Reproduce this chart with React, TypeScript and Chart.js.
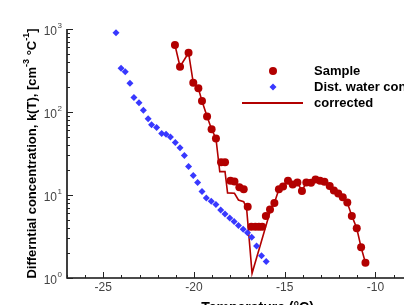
import { useEffect, useRef } from "react";
import { Chart, registerables } from "chart.js";

Chart.register(...registerables);

// Sample: differential concentration vs temperature
const sampleT = [-21.05, -20.77, -20.3, -20.04, -19.76, -19.56, -19.28, -19.03, -18.79, -18.51, -18.29, -17.99, -17.77, -17.5, -17.26, -17.04, -16.84, -16.62, -16.42, -16.24, -16.04, -15.81, -15.57, -15.32, -15.09, -14.82, -14.56, -14.3, -14.05, -13.81, -13.55, -13.3, -13.05, -12.81, -12.52, -12.29, -12.05, -11.8, -11.55, -11.3, -11.03, -10.79, -10.55];
const sampleK = [641, 351, 518, 225, 193, 136, 88, 62, 48, 24.8, 24.8, 14.9, 14.5, 12.4, 11.7, 7.2, 4.15, 4.15, 4.15, 4.15, 5.6, 6.7, 8.0, 11.7, 12.7, 14.9, 13.4, 14.1, 11.2, 14.1, 14.0, 15.4, 14.9, 14.4, 12.8, 11.3, 10.4, 9.4, 8.1, 5.6, 3.97, 2.34, 1.53];

// Distilled water background
const waterT = [-24.3, -24.02, -23.79, -23.53, -23.31, -23.03, -22.79, -22.53, -22.34, -22.06, -21.78, -21.54, -21.3, -21.03, -20.77, -20.53, -20.3, -20.04, -19.8, -19.56, -19.32, -19.05, -18.79, -18.53, -18.29, -18.03, -17.79, -17.55, -17.29, -17.05, -16.82, -16.55, -16.28, -16.02];
const waterK = [902, 336, 306, 222, 150, 129, 105, 83, 70, 65, 55, 54, 50, 43, 37, 30, 22, 17.2, 14.1, 11.0, 9.2, 8.4, 7.7, 6.6, 5.9, 5.3, 4.8, 4.3, 3.86, 3.5, 3.1, 2.43, 1.86, 1.58];

// Sample corrected for the water background
const correctedT = [-21.05, -20.77, -20.3, -20.04, -19.76, -19.56, -19.28, -19.03, -18.79, -18.58, -18.29, -18.15, -17.77, -17.55, -17.26, -17.1, -16.8, -15.78, -15.57, -15.32, -15.09, -14.82, -14.56, -14.3, -14.05, -13.81, -13.55, -13.3, -13.05, -12.81, -12.52, -12.29, -12.05, -11.8, -11.55, -11.3, -11.03, -10.79, -10.55];
const correctedK = [641, 351, 518, 225, 193, 136, 88, 62, 48, 19.1, 19.1, 10.6, 10.5, 8.7, 8.3, 6.9, 1.14, 6.6, 8.0, 11.7, 12.7, 14.9, 13.4, 14.1, 11.2, 14.1, 14.0, 15.4, 14.9, 14.4, 12.8, 11.3, 10.4, 9.4, 8.1, 5.6, 3.97, 2.34, 1.53];

const xTicks = [-25, -20, -15, -10];
const yDecades = [0, 1, 2, 3];
const legendLabels = ["Sample", "Dist. water control", "corrected"];
const xTitle = "Temperature (\u00B0C)";

const RED = "#b20000";
const BLUE = "#3838ff";
const FONT = "'Liberation Sans', Arial, Helvetica, sans-serif";

const W = 460;
const H = 320;

const pts = (xs: number[], ys: number[]) => xs.map((x, i) => ({ x, y: ys[i] }));

const axesPlugin = {
  id: "tecAxes",
  afterDraw(chart: any) {
    const { ctx, chartArea: a, scales } = chart;
    const xs = scales.x;
    const ys = scales.y;
    ctx.save();

    // axis lines
    ctx.strokeStyle = "#111";
    ctx.lineWidth = 1.6;
    ctx.beginPath();
    ctx.moveTo(a.left, a.top);
    ctx.lineTo(a.left, a.bottom);
    ctx.lineTo(a.right + 20, a.bottom);
    ctx.stroke();

    // inward ticks
    ctx.lineWidth = 1;
    ctx.strokeStyle = "#222";
    ctx.beginPath();
    for (let v = Math.ceil(xs.min); v <= xs.max; v++) {
      const px = Math.round(xs.getPixelForValue(v)) + 0.5;
      const len = v % 5 === 0 ? 6 : 3;
      ctx.moveTo(px, a.bottom);
      ctx.lineTo(px, a.bottom - len);
    }
    for (let d = 0; d < 3; d++) {
      for (let m = 1; m <= 9; m++) {
        const py = Math.round(ys.getPixelForValue(m * Math.pow(10, d))) + 0.5;
        const len = m === 1 ? 6 : 3;
        ctx.moveTo(a.left, py);
        ctx.lineTo(a.left + len, py);
      }
    }
    const pTop = Math.round(ys.getPixelForValue(1000)) + 0.5;
    ctx.moveTo(a.left, pTop);
    ctx.lineTo(a.left + 6, pTop);
    ctx.stroke();

    // x tick labels
    ctx.fillStyle = "#444";
    ctx.font = `12px ${FONT}`;
    ctx.textAlign = "center";
    ctx.textBaseline = "middle";
    xTicks.forEach((v) => {
      ctx.fillText(String(v), xs.getPixelForValue(v), a.bottom + 10);
    });

    // y tick labels: 10 with exponent
    yDecades.forEach((d) => {
      const py = ys.getPixelForValue(Math.pow(10, d));
      ctx.font = `12px ${FONT}`;
      ctx.textAlign = "right";
      ctx.fillText("10", 57, py + 2.5);
      ctx.font = `8px ${FONT}`;
      ctx.textAlign = "left";
      ctx.fillText(String(d), 57.5, py - 3);
    });

    // x axis title
    ctx.fillStyle = "#000";
    ctx.font = `bold 14px ${FONT}`;
    ctx.textAlign = "center";
    ctx.textBaseline = "top";
    ctx.fillText(xTitle, (a.left + a.right) / 2, 301);

    // y axis title with superscripts
    const pieces: [string, boolean][] = [
      ["Differntial concentration, k(T), [cm", false],
      ["-3", true],
      [" \u00B0C", false],
      ["-1", true],
      ["]", false],
    ];
    const mainFont = `bold 13px ${FONT}`;
    const supFont = `bold 9px ${FONT}`;
    let total = 0;
    const widths = pieces.map(([t, sup]) => {
      ctx.font = sup ? supFont : mainFont;
      const w = ctx.measureText(t).width;
      total += w;
      return w;
    });
    ctx.translate(32, (a.top + a.bottom) / 2);
    ctx.rotate(-Math.PI / 2);
    ctx.textAlign = "left";
    ctx.textBaseline = "middle";
    let cx = -total / 2;
    pieces.forEach(([t, sup], i) => {
      ctx.font = sup ? supFont : mainFont;
      ctx.fillText(t, cx, sup ? -5 : 0);
      cx += widths[i];
    });
    ctx.setTransform(1, 0, 0, 1, 0, 0);

    // legend
    ctx.fillStyle = RED;
    ctx.beginPath();
    ctx.arc(273, 71, 4, 0, Math.PI * 2);
    ctx.fill();
    ctx.fillStyle = BLUE;
    ctx.beginPath();
    ctx.moveTo(273, 87 - 3.5);
    ctx.lineTo(276.5, 87);
    ctx.lineTo(273, 87 + 3.5);
    ctx.lineTo(269.5, 87);
    ctx.closePath();
    ctx.fill();
    ctx.strokeStyle = RED;
    ctx.lineWidth = 2;
    ctx.beginPath();
    ctx.moveTo(242, 103);
    ctx.lineTo(303, 103);
    ctx.stroke();

    ctx.fillStyle = "#000";
    ctx.font = `bold 13px ${FONT}`;
    ctx.textAlign = "left";
    ctx.textBaseline = "middle";
    ctx.fillText(legendLabels[0], 314, 71);
    ctx.fillText(legendLabels[1], 314, 87);
    ctx.fillText(legendLabels[2], 314, 103);

    ctx.restore();
  },
};

export default function App() {
  const ref = useRef<HTMLCanvasElement | null>(null);

  useEffect(() => {
    if (!ref.current) return;
    const chart = new Chart(ref.current, {
      type: "scatter",
      data: {
        datasets: [
          {
            label: legendLabels[0],
            data: pts(sampleT, sampleK),
            showLine: false,
            pointStyle: "circle",
            pointRadius: 4,
            pointBackgroundColor: RED,
            pointBorderColor: RED,
            pointBorderWidth: 0,
          },
          {
            label: legendLabels[1],
            data: pts(waterT, waterK),
            showLine: false,
            pointStyle: "rectRot",
            pointRadius: 3.5,
            pointBackgroundColor: BLUE,
            pointBorderColor: BLUE,
            pointBorderWidth: 0,
          },
          {
            label: legendLabels[2],
            data: pts(correctedT, correctedK),
            showLine: true,
            borderColor: RED,
            borderWidth: 1.6,
            pointRadius: 0,
            tension: 0,
          },
        ],
      },
      options: {
        responsive: false,
        animation: false,
        devicePixelRatio: 1,
        layout: { padding: { left: 67, top: 29, right: W - 448, bottom: H - 278 } },
        plugins: { legend: { display: false }, tooltip: { enabled: false } },
        scales: {
          x: { type: "linear", min: -27, max: -6, display: false },
          y: { type: "logarithmic", min: 1, max: 1000, display: false },
        },
      },
      plugins: [axesPlugin],
    });
    return () => chart.destroy();
  }, []);

  return (
    <div
      style={{
        position: "fixed",
        left: 0,
        top: 0,
        width: 404,
        height: 305,
        overflow: "hidden",
        background: "#fff",
      }}
    >
      <canvas ref={ref} width={W} height={H} style={{ display: "block" }} />
    </div>
  );
}
